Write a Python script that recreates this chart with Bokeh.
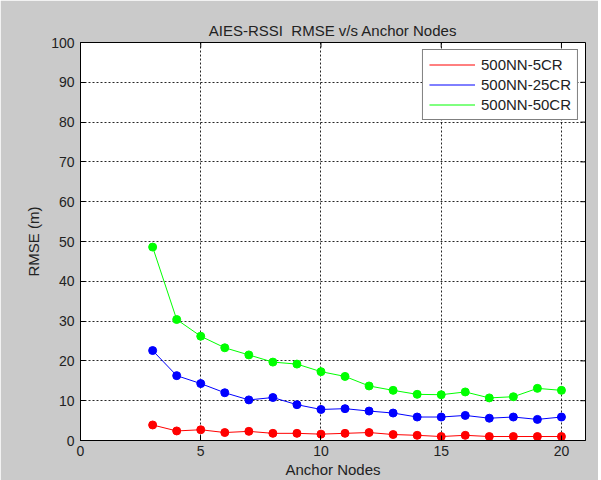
from bokeh.plotting import figure
from bokeh.models import Range1d, Legend, LegendItem, FixedTicker
from bokeh.embed import file_html
from bokeh.resources import INLINE

anchor_nodes = list(range(3, 21))
rmse_5cr = [3.9, 2.4, 2.7, 2.0, 2.3, 1.8, 1.8, 1.6, 1.8, 2.0, 1.5, 1.3, 1.0, 1.3, 1.0, 1.0, 1.0, 1.0]
rmse_25cr = [22.6, 16.3, 14.3, 12.0, 10.2, 10.8, 9.0, 7.8, 8.0, 7.4, 6.9, 5.9, 5.9, 6.3, 5.6, 5.9, 5.3, 5.9]
rmse_50cr = [48.6, 30.4, 26.2, 23.3, 21.5, 19.7, 19.2, 17.3, 16.1, 13.7, 12.6, 11.6, 11.5, 12.2, 10.7, 11.0, 13.1, 12.6]
series_names = ["500NN-5CR", "500NN-25CR", "500NN-50CR"]
x_ticks = [0, 5, 10, 15, 20]
y_ticks = list(range(0, 101, 10))
x_max = 21
y_max = 100

FONT = "Liberation Sans"
GRAY = "#cacaca"
TXT = "#222222"

p = figure(width=598, height=480, output_backend="svg", toolbar_location=None,
           x_range=Range1d(0, x_max), y_range=Range1d(0, y_max),
           min_border_left=80, min_border_right=13, min_border_top=42, min_border_bottom=40)
p.border_fill_color = GRAY
p.background_fill_color = "white"
p.outline_line_color = "black"
p.outline_line_width = 1

p.title.text = "AIES-RSSI\u00a0\u00a0RMSE v/s Anchor Nodes"
p.title.align = "center"
p.title.text_font = FONT
p.title.text_font_size = "15px"
p.title.text_font_style = "normal"
p.title.text_color = TXT
p.title.standoff = 8

for ax in (p.xaxis[0], p.yaxis[0]):
    ax.axis_line_color = "black"
    ax.major_tick_in = 5
    ax.major_tick_out = 0
    ax.minor_tick_line_color = None
    ax.major_tick_line_color = "black"
    ax.major_label_text_font = FONT
    ax.major_label_text_font_size = "14px"
    ax.major_label_text_color = TXT
    ax.axis_label_text_font = FONT
    ax.axis_label_text_font_size = "15px"
    ax.axis_label_text_font_style = "normal"
    ax.axis_label_text_color = TXT

p.xaxis.ticker = FixedTicker(ticks=x_ticks)
p.yaxis.ticker = FixedTicker(ticks=y_ticks)
p.xaxis.axis_label = "Anchor Nodes"
p.yaxis.axis_label = "RMSE (m)"
p.xaxis.axis_label_standoff = 2
p.yaxis.axis_label_standoff = 6
p.xaxis.major_label_standoff = 5
p.yaxis.major_label_standoff = 6

for g in (p.xgrid[0], p.ygrid[0]):
    g.grid_line_color = "black"
    g.grid_line_dash = "2 2"
    g.grid_line_width = 1
    g.grid_line_alpha = 0.85
p.xgrid.ticker = FixedTicker(ticks=x_ticks)
p.ygrid.ticker = FixedTicker(ticks=y_ticks)

# inward ticks on the top and right edges of the box
p.segment(x0=x_ticks, y0=[y_max] * len(x_ticks), x1=x_ticks, y1=[y_max - 1.25] * len(x_ticks),
          line_color="black", line_width=1)
p.segment(x0=[x_max] * len(y_ticks), y0=y_ticks, x1=[x_max - 0.21] * len(y_ticks), y1=y_ticks,
          line_color="black", line_width=1)

colors = ["#ff0000", "#0000ff", "#00ff00"]
items = []
for vals, name, c in zip([rmse_5cr, rmse_25cr, rmse_50cr], series_names, colors):
    ln = p.line(anchor_nodes, vals, line_color=c, line_width=1)
    p.scatter(anchor_nodes, vals, marker="circle", size=8, fill_color=c, line_color=c)
    items.append(LegendItem(label=name, renderers=[ln]))

legend = Legend(items=items, location="top_right")
legend.label_text_font = FONT
legend.label_text_font_size = "15px"
legend.label_text_color = TXT
legend.border_line_color = "black"
legend.border_line_width = 1
legend.background_fill_color = "white"
legend.background_fill_alpha = 1
legend.glyph_width = 46
legend.glyph_height = 17
legend.label_height = 17
legend.spacing = 3
legend.padding = 6
legend.margin = 7
legend.label_standoff = 6
p.add_layout(legend, "center")

open("out.html", "w").write(file_html(p, INLINE))
